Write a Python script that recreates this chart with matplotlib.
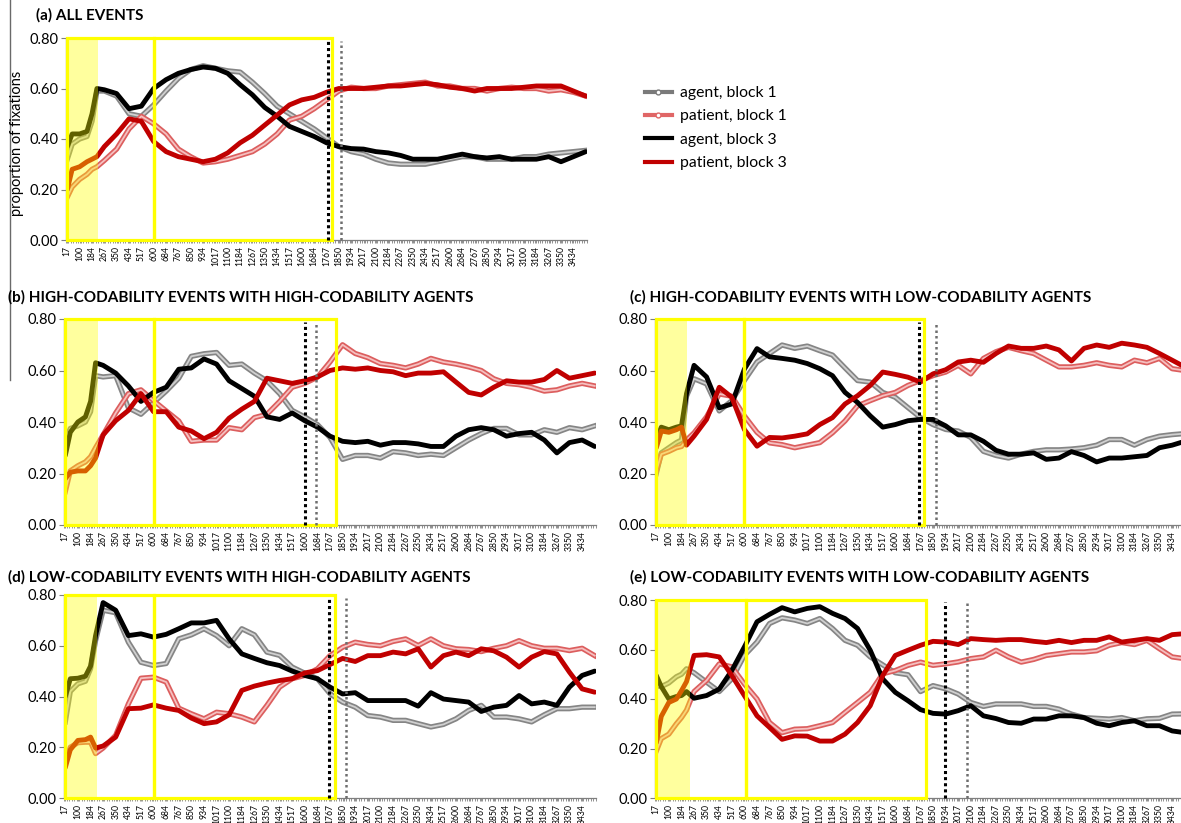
import numpy as np
import matplotlib
matplotlib.use("Agg")
import matplotlib.pyplot as plt
from matplotlib.patches import Rectangle
from matplotlib.lines import Line2D
import matplotlib.patheffects as pe

plt.rcParams['font.family'] = ['Lato', 'DejaVu Sans']

# ---------------- data ----------------
TIME_MS = [17, 50, 100, 150, 184, 217, 267,
           350, 434, 517, 600, 684, 767, 850, 934, 1017, 1100, 1184, 1267,
           1350, 1434, 1517, 1600, 1684, 1767, 1850, 1934, 2017, 2100, 2184, 2267,
           2350, 2434, 2517, 2600, 2684, 2767, 2850, 2934, 3017, 3100, 3184, 3267,
           3350, 3434, 3517]

TICK_LABELS = ['17', '100', '184', '267', '350', '434', '517', '600', '684', '767',
               '850', '934', '1017', '1100', '1184', '1267', '1350', '1434', '1517',
               '1600', '1684', '1767', '1850', '1934', '2017', '2100', '2184', '2267',
               '2350', '2434', '2517', '2600', '2684', '2767', '2850', '2934', '3017',
               '3100', '3184', '3267', '3350', '3434']
Y_TICKS = [0.0, 0.2, 0.4, 0.6, 0.8]

SERIES_NAMES = ['agent, block 1', 'patient, block 1', 'agent, block 3', 'patient, block 3']

# (a) all events
a_agent1 = [0.32, 0.38, 0.40, 0.41, 0.47, 0.59, 0.59, 0.57, 0.50, 0.49, 0.535, 0.59, 0.64, 0.675, 0.69,
            0.68, 0.67, 0.665, 0.625, 0.58, 0.53, 0.50, 0.47, 0.44, 0.405, 0.37, 0.35, 0.34, 0.32, 0.305, 0.30,
            0.30, 0.30, 0.31, 0.32, 0.33, 0.33, 0.32, 0.32, 0.32, 0.33, 0.33, 0.34, 0.345, 0.35, 0.355]
a_patient1 = [0.17, 0.21, 0.24, 0.26, 0.28, 0.29, 0.315, 0.36, 0.44, 0.49, 0.46, 0.42, 0.36, 0.33, 0.305,
              0.31, 0.32, 0.335, 0.35, 0.38, 0.42, 0.475, 0.49, 0.52, 0.555, 0.59, 0.605, 0.60, 0.60, 0.61, 0.615,
              0.62, 0.625, 0.61, 0.61, 0.60, 0.60, 0.59, 0.60, 0.605, 0.60, 0.60, 0.59, 0.595, 0.585, 0.57]
a_agent3 = [0.37, 0.42, 0.42, 0.43, 0.50, 0.60, 0.595, 0.58, 0.52, 0.53, 0.60, 0.635, 0.66, 0.675, 0.685,
            0.68, 0.66, 0.615, 0.575, 0.525, 0.49, 0.45, 0.43, 0.41, 0.385, 0.37, 0.362, 0.36, 0.35, 0.345, 0.335,
            0.32, 0.32, 0.32, 0.33, 0.34, 0.33, 0.325, 0.33, 0.32, 0.32, 0.32, 0.33, 0.31, 0.33, 0.35]
a_patient3 = [0.20, 0.28, 0.29, 0.31, 0.32, 0.33, 0.37, 0.42, 0.48, 0.47, 0.39, 0.35, 0.33, 0.32, 0.31,
              0.32, 0.345, 0.385, 0.415, 0.455, 0.495, 0.535, 0.555, 0.565, 0.585, 0.60, 0.60, 0.60, 0.605, 0.61, 0.61,
              0.615, 0.62, 0.615, 0.605, 0.60, 0.59, 0.60, 0.60, 0.60, 0.605, 0.61, 0.61, 0.61, 0.59, 0.57]

# (b) high-codability events, high-codability agents
b_agent1 = [0.33, 0.375, 0.385, 0.40, 0.44, 0.58, 0.575, 0.58, 0.455, 0.43, 0.475, 0.52, 0.57, 0.655, 0.665,
            0.67, 0.62, 0.625, 0.59, 0.56, 0.51, 0.445, 0.42, 0.39, 0.34, 0.255, 0.27, 0.27, 0.26, 0.285, 0.28,
            0.27, 0.275, 0.27, 0.30, 0.33, 0.355, 0.375, 0.375, 0.35, 0.35, 0.37, 0.36, 0.378, 0.37, 0.385]
b_patient1 = [0.13, 0.21, 0.23, 0.245, 0.265, 0.30, 0.35, 0.435, 0.51, 0.525, 0.483, 0.443, 0.404, 0.325, 0.33,
              0.33, 0.378, 0.37, 0.417, 0.43, 0.48, 0.535, 0.55, 0.574, 0.633, 0.70, 0.666, 0.65, 0.627, 0.62, 0.61,
              0.625, 0.647, 0.633, 0.625, 0.614, 0.60, 0.568, 0.55, 0.545, 0.535, 0.52, 0.525, 0.54, 0.55, 0.54]
b_agent3 = [0.27, 0.36, 0.40, 0.42, 0.48, 0.63, 0.62, 0.59, 0.54, 0.48, 0.515, 0.535, 0.605, 0.61, 0.645,
            0.625, 0.56, 0.53, 0.50, 0.42, 0.41, 0.435, 0.405, 0.38, 0.345, 0.325, 0.32, 0.325, 0.31, 0.32, 0.32,
            0.315, 0.305, 0.305, 0.345, 0.37, 0.378, 0.37, 0.345, 0.355, 0.36, 0.33, 0.28, 0.32, 0.33, 0.305]
b_patient3 = [0.18, 0.205, 0.21, 0.21, 0.23, 0.26, 0.35, 0.405, 0.445, 0.51, 0.44, 0.44, 0.38, 0.365, 0.335,
              0.36, 0.415, 0.45, 0.48, 0.57, 0.56, 0.55, 0.56, 0.575, 0.60, 0.61, 0.605, 0.61, 0.60, 0.595, 0.58,
              0.59, 0.59, 0.595, 0.555, 0.515, 0.505, 0.535, 0.56, 0.555, 0.555, 0.565, 0.60, 0.57, 0.58, 0.59]

# (c) high-codability events, low-codability agents
c_agent1 = [0.20, 0.28, 0.30, 0.32, 0.33, 0.50, 0.568, 0.548, 0.443, 0.483, 0.561, 0.633, 0.666, 0.699, 0.686,
            0.695, 0.677, 0.66, 0.61, 0.561, 0.555, 0.515, 0.496, 0.456, 0.417, 0.39, 0.371, 0.365, 0.34, 0.286, 0.27,
            0.26, 0.275, 0.286, 0.292, 0.292, 0.295, 0.30, 0.31, 0.332, 0.332, 0.31, 0.332, 0.345, 0.351, 0.355]
c_patient1 = [0.21, 0.275, 0.286, 0.30, 0.305, 0.33, 0.358, 0.42, 0.509, 0.50, 0.424, 0.36, 0.319, 0.312, 0.30,
              0.31, 0.32, 0.358, 0.404, 0.463, 0.483, 0.502, 0.515, 0.542, 0.561, 0.58, 0.594, 0.62, 0.587, 0.647, 0.673,
              0.69, 0.677, 0.666, 0.64, 0.614, 0.614, 0.62, 0.63, 0.62, 0.614, 0.64, 0.63, 0.647, 0.607, 0.60]
c_agent3 = [0.33, 0.38, 0.37, 0.38, 0.385, 0.51, 0.62, 0.575, 0.455, 0.47, 0.605, 0.685, 0.653, 0.647, 0.64,
            0.627, 0.607, 0.58, 0.515, 0.476, 0.424, 0.38, 0.39, 0.405, 0.41, 0.41, 0.385, 0.35, 0.35, 0.325, 0.29,
            0.275, 0.275, 0.28, 0.255, 0.26, 0.285, 0.27, 0.245, 0.26, 0.26, 0.265, 0.27, 0.30, 0.31, 0.325]
c_patient3 = [0.30, 0.365, 0.36, 0.37, 0.38, 0.31, 0.345, 0.41, 0.535, 0.496, 0.371, 0.306, 0.34, 0.338, 0.345,
              0.354, 0.39, 0.417, 0.47, 0.502, 0.542, 0.594, 0.585, 0.574, 0.555, 0.587, 0.603, 0.633, 0.64, 0.632, 0.666,
              0.695, 0.686, 0.686, 0.695, 0.68, 0.637, 0.686, 0.699, 0.69, 0.706, 0.699, 0.69, 0.666, 0.64, 0.614]

# (d) low-codability events, high-codability agents
d_agent1 = [0.30, 0.42, 0.45, 0.46, 0.51, 0.62, 0.74, 0.73, 0.614, 0.535, 0.522, 0.53, 0.627, 0.643, 0.667,
            0.64, 0.60, 0.667, 0.643, 0.575, 0.562, 0.516, 0.492, 0.47, 0.411, 0.378, 0.358, 0.325, 0.319, 0.306, 0.306,
            0.293, 0.28, 0.29, 0.312, 0.345, 0.365, 0.319, 0.319, 0.312, 0.30, 0.328, 0.352, 0.352, 0.358, 0.358]
d_patient1 = [0.14, 0.20, 0.218, 0.22, 0.22, 0.175, 0.197, 0.247, 0.371, 0.472, 0.476, 0.457, 0.354, 0.332, 0.312,
              0.338, 0.332, 0.319, 0.30, 0.365, 0.437, 0.47, 0.483, 0.509, 0.561, 0.594, 0.614, 0.605, 0.60, 0.617, 0.627,
              0.601, 0.627, 0.60, 0.588, 0.585, 0.577, 0.59, 0.60, 0.62, 0.60, 0.59, 0.59, 0.581, 0.59, 0.561]
d_agent3 = [0.40, 0.47, 0.472, 0.48, 0.52, 0.64, 0.77, 0.74, 0.64, 0.647, 0.634, 0.645, 0.667, 0.69, 0.69,
            0.70, 0.627, 0.568, 0.55, 0.533, 0.522, 0.50, 0.483, 0.47, 0.437, 0.41, 0.415, 0.384, 0.384, 0.384, 0.384,
            0.362, 0.415, 0.39, 0.384, 0.378, 0.341, 0.358, 0.365, 0.404, 0.371, 0.378, 0.365, 0.437, 0.483, 0.50]
d_patient3 = [0.12, 0.19, 0.227, 0.23, 0.24, 0.197, 0.205, 0.24, 0.352, 0.354, 0.367, 0.354, 0.345, 0.315, 0.293,
              0.30, 0.328, 0.424, 0.441, 0.453, 0.463, 0.47, 0.493, 0.502, 0.526, 0.55, 0.538, 0.561, 0.561, 0.575, 0.568,
              0.588, 0.516, 0.561, 0.575, 0.561, 0.588, 0.58, 0.555, 0.516, 0.555, 0.577, 0.568, 0.496, 0.43, 0.417]

# (e) low-codability events, low-codability agents
e_agent1 = [0.454, 0.45, 0.465, 0.49, 0.50, 0.522, 0.506, 0.468, 0.43, 0.481, 0.576, 0.63, 0.705, 0.728, 0.719,
            0.705, 0.725, 0.685, 0.637, 0.617, 0.57, 0.538, 0.506, 0.498, 0.43, 0.454, 0.441, 0.42, 0.386, 0.37, 0.38,
            0.38, 0.38, 0.37, 0.37, 0.359, 0.339, 0.325, 0.322, 0.319, 0.325, 0.312, 0.32, 0.322, 0.339, 0.34]
e_patient1 = [0.19, 0.24, 0.258, 0.30, 0.325, 0.355, 0.43, 0.475, 0.542, 0.53, 0.461, 0.40, 0.305, 0.264, 0.278,
              0.28, 0.292, 0.305, 0.346, 0.386, 0.427, 0.502, 0.515, 0.536, 0.549, 0.536, 0.542, 0.55, 0.563, 0.57, 0.597,
              0.57, 0.549, 0.56, 0.576, 0.583, 0.59, 0.59, 0.595, 0.617, 0.628, 0.62, 0.637, 0.603, 0.57, 0.563]
e_agent3 = [0.495, 0.45, 0.40, 0.41, 0.414, 0.43, 0.403, 0.414, 0.44, 0.515, 0.61, 0.712, 0.742, 0.769, 0.752,
            0.766, 0.773, 0.746, 0.725, 0.685, 0.597, 0.481, 0.427, 0.393, 0.357, 0.342, 0.339, 0.353, 0.373, 0.332, 0.321,
            0.305, 0.302, 0.319, 0.319, 0.332, 0.332, 0.325, 0.302, 0.292, 0.305, 0.312, 0.292, 0.292, 0.271, 0.264]
e_patient3 = [0.224, 0.33, 0.386, 0.40, 0.434, 0.47, 0.576, 0.579, 0.57, 0.495, 0.414, 0.332, 0.285, 0.237, 0.251,
              0.25, 0.23, 0.23, 0.258, 0.305, 0.373, 0.495, 0.576, 0.597, 0.617, 0.633, 0.63, 0.62, 0.644, 0.64, 0.637,
              0.64, 0.64, 0.633, 0.628, 0.637, 0.628, 0.637, 0.637, 0.651, 0.63, 0.637, 0.644, 0.637, 0.66, 0.664]

PANEL_TITLES = ['(a) ALL EVENTS',
                '(b) HIGH-CODABILITY EVENTS WITH HIGH-CODABILITY AGENTS',
                '(c) HIGH-CODABILITY EVENTS WITH LOW-CODABILITY AGENTS',
                '(d) LOW-CODABILITY EVENTS WITH HIGH-CODABILITY AGENTS',
                '(e) LOW-CODABILITY EVENTS WITH LOW-CODABILITY AGENTS']
# time windows (ms): shaded early window end, first box end, second box end
SHADE_END = [226, 230, 221, 224, 240]
BOX1_END = [600, 603, 600, 601, 610]
BOX2_END = [1803, 1806, 1789, 1797, 1805]
# speech onset markers (ms): block 3 (black dotted), block 1 (grey dotted)
ONSET_BLOCK3 = [1776, 1600, 1755, 1763, 1932]
ONSET_BLOCK1 = [1862, 1672, 1870, 1875, 2078]

PANEL_DATA = [
    (a_agent1, a_patient1, a_agent3, a_patient3),
    (b_agent1, b_patient1, b_agent3, b_patient3),
    (c_agent1, c_patient1, c_agent3, c_patient3),
    (d_agent1, d_patient1, d_agent3, d_patient3),
    (e_agent1, e_patient1, e_agent3, e_patient3),
]

# ---------------- layout (pixels) ----------------
W, H = 1181, 823
fig = plt.figure(figsize=(W / 100, H / 100), dpi=100)

# left, right, top, bottom in pixels
BOXES = [(66, 587, 38, 240),
         (64, 596, 319, 525),
         (655, 1186, 319, 525),
         (64, 596, 595, 798),
         (655, 1186, 600, 798)]
TITLE_POS = [(36, 15), (8, 297), (630, 297), (8, 577), (630, 577)]

GREY_EDGE, GREY_IN = '#858585', '#d0d0d0'
PINK_EDGE, PINK_IN = '#dc5e5e', '#f5c0c0'
BLACK, RED = '#000000', '#c00000'

t = np.array(TIME_MS, dtype=float)
xlo, xhi = 8.3, 3525.7

for i, (box, data) in enumerate(zip(BOXES, PANEL_DATA)):
    l, r, tp, bt = box
    ax = fig.add_axes([l / W, 1 - bt / H, (r - l) / W, (bt - tp) / H])
    ag1, pa1, ag3, pa3 = data

    # block 1 (hollow-circle look)
    ax.plot(t, ag1, color=GREY_IN, lw=1.3, zorder=2,
            path_effects=[pe.Stroke(linewidth=3.8, foreground=GREY_EDGE), pe.Normal()])
    ax.plot(t, pa1, color=PINK_IN, lw=1.3, zorder=2,
            path_effects=[pe.Stroke(linewidth=3.8, foreground=PINK_EDGE), pe.Normal()])
    # block 3
    ax.plot(t, ag3, color=BLACK, lw=3.5, zorder=3, solid_capstyle='round')
    ax.plot(t, pa3, color=RED, lw=3.5, zorder=3, solid_capstyle='round')

    # yellow overlay for early window
    ax.axvspan(xlo, SHADE_END[i], color='#ffff00', alpha=0.38, lw=0, zorder=5)
    # yellow boxes
    ax.add_patch(Rectangle((xlo + 8, 0), BOX1_END[i] - xlo - 8, 0.8, fill=False,
                           edgecolor='#ffff00', lw=2.3, zorder=6, clip_on=False))
    ax.add_patch(Rectangle((BOX1_END[i], 0), BOX2_END[i] - BOX1_END[i], 0.8, fill=False,
                           edgecolor='#ffff00', lw=2.3, zorder=6, clip_on=False))
    # onset markers
    ax.plot([ONSET_BLOCK3[i]] * 2, [0, 0.79], color='#000000', lw=2.2,
            linestyle=(0, (1, 1)), zorder=7, clip_on=False)
    ax.plot([ONSET_BLOCK1[i]] * 2, [0, 0.79], color='#6e6e6e', lw=1.8,
            linestyle=(0, (1, 1.2)), zorder=7, clip_on=False)

    ax.set_xlim(xlo, xhi)
    ax.set_ylim(0, 0.8)
    ax.set_yticks(Y_TICKS)
    ax.set_yticklabels([f'{v:.2f}' for v in Y_TICKS], fontsize=10.5)
    ax.set_xticks([float(s) for s in TICK_LABELS])
    ax.set_xticklabels(TICK_LABELS, rotation=90, fontsize=6.2)
    ax.set_xticks(np.arange(xlo, xhi + 1, 16.667), minor=True)
    ax.tick_params(axis='x', which='both', length=2.5, width=0.6, color='#7f7f7f', pad=2)
    ax.tick_params(axis='y', length=3.5, width=0.8, color='#7f7f7f', pad=2)
    for s in ['top', 'right']:
        ax.spines[s].set_visible(False)
    for s in ['left', 'bottom']:
        ax.spines[s].set_color('#7f7f7f')
        ax.spines[s].set_linewidth(0.9)
    ax.patch.set_alpha(0)

    tx, ty = TITLE_POS[i]
    fig.text(tx / W, 1 - ty / H, PANEL_TITLES[i], fontsize=11, fontweight='bold',
             ha='left', va='center')

# y label and left rule
fig.text(17 / W, 1 - 143 / H, 'proportion of fixations', rotation=90,
         ha='center', va='center', fontsize=10.5)
fig.add_artist(Line2D([10 / W, 10 / W], [1.0, 1 - 380 / H], transform=fig.transFigure,
                      color='#6a6a6a', lw=1.0))

# legend
handles = [
    Line2D([], [], color='#7a7a7a', lw=3, marker='o', markersize=3.5,
           markerfacecolor='white', markeredgecolor='#7a7a7a'),
    Line2D([], [], color='#e06666', lw=3, marker='o', markersize=3.5,
           markerfacecolor='white', markeredgecolor='#e06666'),
    Line2D([], [], color=BLACK, lw=3),
    Line2D([], [], color=RED, lw=3),
]
fig.legend(handles, SERIES_NAMES, loc='upper left', bbox_to_anchor=(645 / W, 1 - 86 / H),
           frameon=False, fontsize=11.3, handlelength=1.7, handletextpad=0.55,
           labelspacing=0.6, numpoints=1, borderaxespad=0, borderpad=0)

fig.savefig('out.png', dpi=100)
